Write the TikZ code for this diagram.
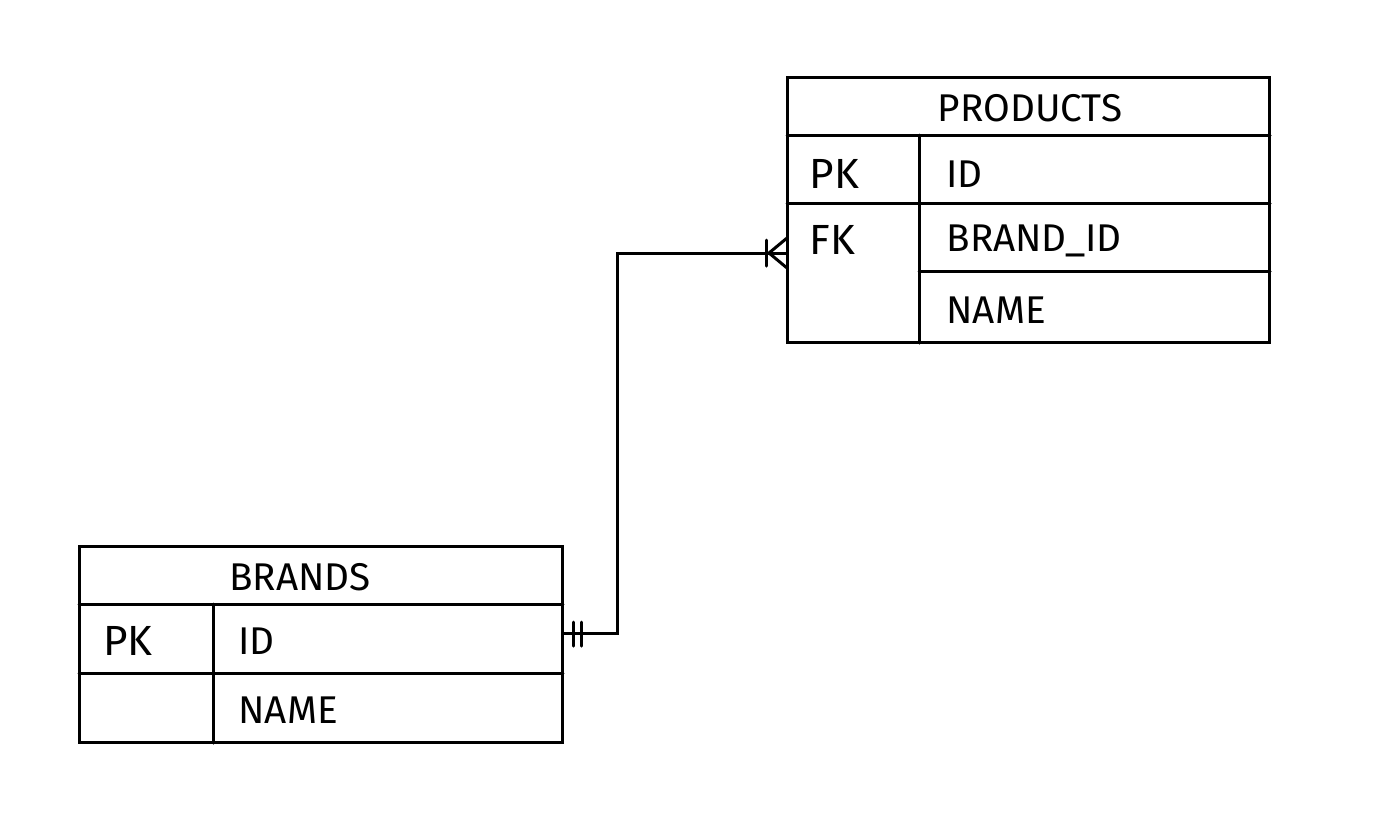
\documentclass[tikz,border=0pt]{standalone}
\usepackage{fontspec}
\setmainfont{Fira Sans}
\begin{document}
\begin{tikzpicture}[x=0.02cm,y=-0.02cm,line width=0.06cm,line cap=round,
  tbl/.style={draw,line width=0.06cm,inner sep=0,outer sep=0,anchor=north west},
  title/.style={font=\fontsize{22}{24}\selectfont,inner sep=0},
  key/.style={font=\fontsize{24}{26}\selectfont,anchor=west,inner sep=0},
  field/.style={font=\fontsize{22}{24}\selectfont,anchor=west,inner sep=0}]
\useasboundingbox (0,0) rectangle (1374,816);
% products table
\node[tbl,minimum width=9.66cm,minimum height=5.32cm] (products) at (787,77) {};
\draw (787,135) -- (1270,135);
\draw (787,203) -- (1270,203);
\draw (919,271) -- (1270,271);
\draw (919,135) -- (919,343);
\node[title] (ptitle) at (1030,108) {PRODUCTS};
\node[key] (ppk) at (808,174) {PK};
\node[field] (pid) at (945,174) {ID};
\node[key] (pfk) at (808,240) {FK};
\node[field] (pbid) at (945,241) {BRAND\_ID};
\node[field] (pname) at (945,310) {NAME};
% brands table
\node[tbl,minimum width=9.68cm,minimum height=3.94cm] (brands) at (79,546) {};
\draw (79,604) -- (563,604);
\draw (79,673) -- (563,673);
\draw (213,604) -- (213,743);
\node[title] (btitle) at (300,577) {BRANDS};
\node[key] (bpk) at (102,641) {PK};
\node[field] (bid) at (237,641) {ID};
\node[field] (bname) at (237,710) {NAME};
% connector
\coordinate (pend) at (787,253);
\coordinate (bend) at (563,633);
\draw[line cap=butt] (bend) -- (617,633) -- (617,253) -- (pend);
% one and only one
\draw (bend) ++(10,-11) -- ++(0,24);
\draw (bend) ++(18,-11) -- ++(0,24);
% one or many (crow's foot)
\draw (pend) ++(-21,-13) -- ++(0,26);
\draw (pend) ++(0,-15) -- ++(-18,15) -- ++(18,15);
\end{tikzpicture}
\end{document}
